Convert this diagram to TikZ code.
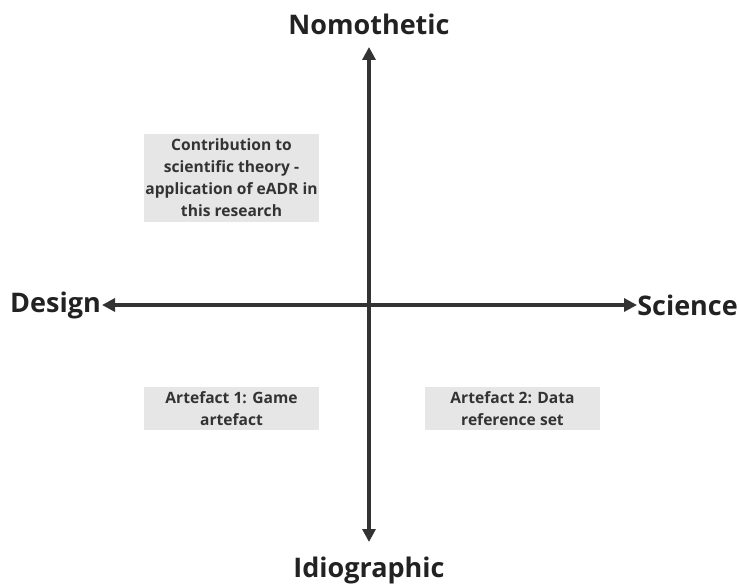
\documentclass[tikz,border=0pt]{standalone}
\usepackage{fontspec}
\setmainfont{Open Sans}[BoldFont={* Bold}]
\usetikzlibrary{arrows.meta}
\definecolor{axisgray}{HTML}{333333}
\definecolor{boxgray}{HTML}{E6E6E6}
\definecolor{textdark}{HTML}{222222}
\begin{document}
\begin{tikzpicture}[x=1pt,y=-1pt,
  axis/.style={draw=axisgray,line width=3.2pt,{Triangle[length=13pt,width=13pt]}-{Triangle[length=13pt,width=13pt]}},
  pole/.style={font=\bfseries\fontsize{27}{32}\selectfont,text=textdark,inner sep=0pt},
  card/.style={fill=boxgray,text=axisgray,font=\bfseries\fontsize{15.6}{22}\selectfont,align=center,inner sep=0pt,minimum width=175pt}
]
\useasboundingbox (0,0) rectangle (739,588);
% pole labels
\node[pole] (nomo) at (369,24) {Nomothetic};
\node[pole] (idio) at (369,570) {Idiographic};
\node[pole,anchor=west] (design) at (10,305) {Design};
\node[pole,anchor=east] (science) at (738,305) {Science};
% axes
\coordinate (top) at (369,47);
\coordinate (bottom) at (369,542);
\coordinate (left) at (102,305);
\coordinate (right) at (637,305);
\draw[axis] (top) -- (bottom);
\draw[axis] (left) -- (right);
% quadrant cards
\node[card,minimum height=88pt] (theory) at (231.5,178) {Contribution to\\scientific theory -\\application of eADR in\\this research};
\node[card,minimum height=43pt] (game) at (231.5,408.5) {Artefact 1: Game\\artefact};
\node[card,minimum height=43pt] (data) at (512.5,408.5) {Artefact 2: Data\\reference set};
\end{tikzpicture}
\end{document}
